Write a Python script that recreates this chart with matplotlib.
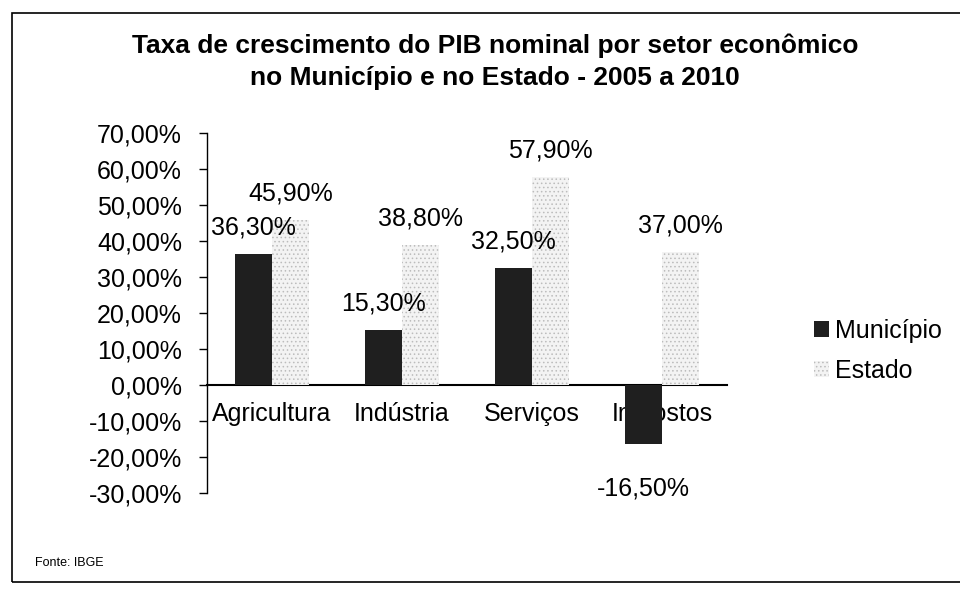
import matplotlib
matplotlib.use('Agg')
import matplotlib.pyplot as plt
import matplotlib.patches
import numpy as np
from matplotlib.ticker import FuncFormatter, MultipleLocator

# values (percent)
setores = ['Agricultura', 'Indústria', 'Serviços', 'Impostos']
municipio = [36.3, 15.3, 32.5, -16.5]
estado = [45.9, 38.8, 57.9, 37.0]
series_names = ['Município', 'Estado']

TITLE = ('Taxa de crescimento do PIB nominal por setor econômico\n'
         'no Município e no Estado - 2005 a 2010')
FONT = 'Liberation Sans'
BAR_W = 0.285


def pct(v, pos=None):
    return ('%.2f%%' % v).replace('.', ',')


plt.rcParams['font.family'] = [FONT, 'DejaVu Sans']
plt.rcParams['hatch.linewidth'] = 0.6

fig = plt.figure(figsize=(9.6, 5.95), dpi=100)
ax = fig.add_axes([0.2156, 0.1714, 0.5417, 0.6050])

x = np.arange(len(setores))
# bars above the axis artists, as in the scan (the negative bar hides its label)
b1 = ax.bar(x - BAR_W / 2, municipio, BAR_W, color='#1f1f1f',
            edgecolor='#1f1f1f', linewidth=0, label=series_names[0], zorder=3)
b2 = ax.bar(x + BAR_W / 2, estado, BAR_W, color='#f3f3f3',
            edgecolor='#bcbcbc', hatch='....', linewidth=0,
            label=series_names[1], zorder=3)

# data labels
for bars in (b1, b2):
    for rect in bars:
        h = rect.get_height()
        cx = rect.get_x() + rect.get_width() / 2
        if h >= 0:
            ax.annotate(pct(h), (cx, h), xytext=(0, 19), textcoords='offset points',
                        ha='center', va='center', fontsize=18, zorder=4)
        else:
            ax.annotate(pct(h), (cx, h), xytext=(0, -32), textcoords='offset points',
                        ha='center', va='center', fontsize=18, zorder=4)

ax.set_xlim(-0.5, len(setores) - 0.5)
ax.set_ylim(-30, 70)
ax.yaxis.set_major_locator(MultipleLocator(10))
ax.yaxis.set_major_formatter(FuncFormatter(pct))
ax.tick_params(axis='y', direction='out', length=6, width=1, pad=12,
               labelsize=18, colors='black')

ax.spines['top'].set_visible(False)
ax.spines['right'].set_visible(False)
ax.spines['bottom'].set_position(('data', 0))
ax.spines['bottom'].set_linewidth(1.5)
ax.spines['left'].set_linewidth(1.0)
ax.set_xticks(x)
ax.set_xticklabels(setores, fontsize=18)
ax.tick_params(axis='x', length=0, pad=12)

leg = fig.legend(handles=[b1, b2], loc='center left',
                 bbox_to_anchor=(0.835, 0.41), frameon=False, fontsize=18,
                 handlelength=0.6, handleheight=0.6, handletextpad=0.25,
                 labelspacing=0.65, borderpad=0)

fig.text(0.516, 1 - 62 / 595, TITLE, ha='center', va='center',
         fontsize=19, fontweight='bold', linespacing=1.4)
fig.text(35 / 960, 1 - 563 / 595, 'Fonte: IBGE', ha='left', va='center',
         fontsize=9)

# outer frame of the pasted chart
frame = matplotlib.patches.Rectangle((12 / 960, 1 - 582 / 595), 1.0,
                                     (582 - 13) / 595, fill=False,
                                     edgecolor='black', linewidth=1.2,
                                     transform=fig.transFigure)
fig.patches.append(frame)

fig.savefig('out.png', dpi=100, facecolor='white')
